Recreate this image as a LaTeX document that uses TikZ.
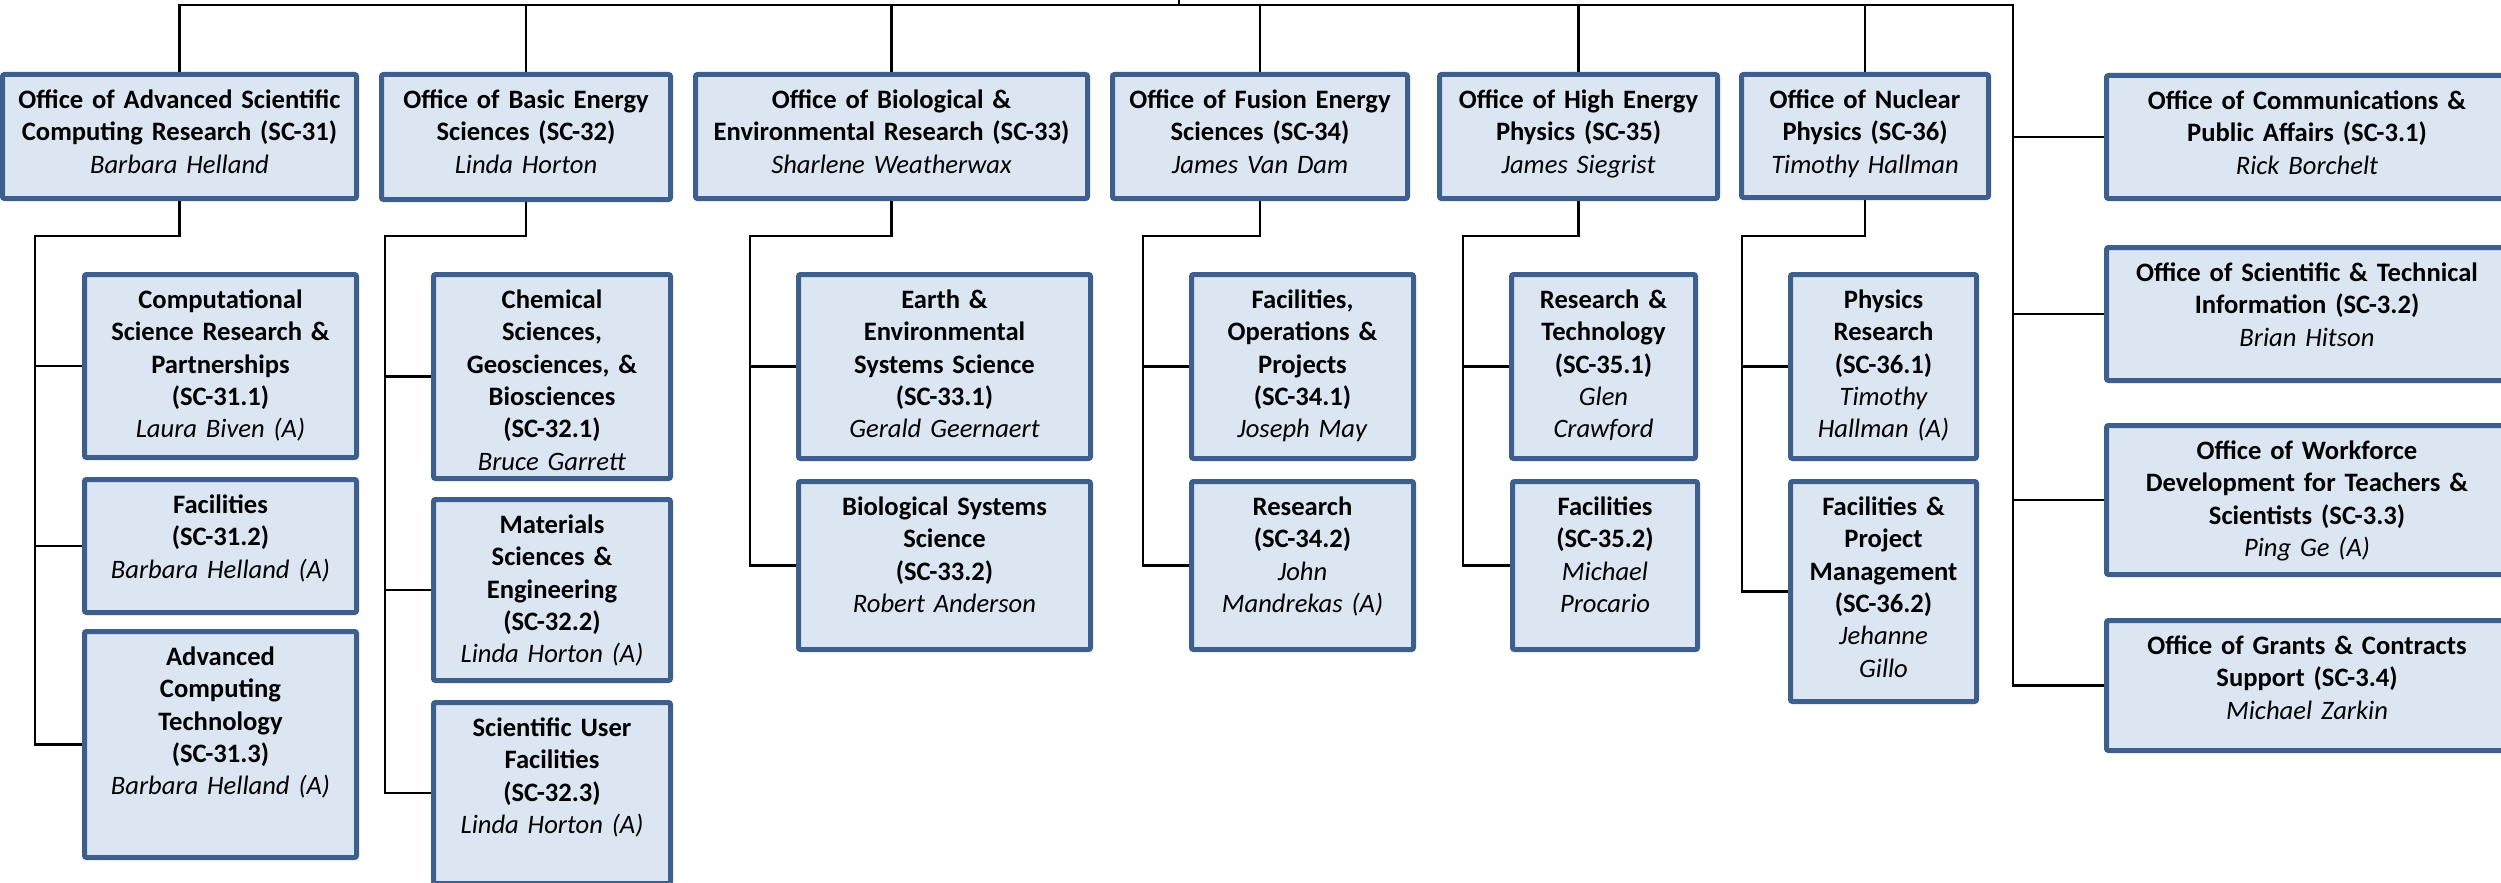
\documentclass[tikz,border=0pt]{standalone}
\usepackage{fontspec}
\setmainfont{Carlito}
\definecolor{boxfill}{HTML}{DCE6F2}
\definecolor{boxline}{HTML}{3C5F8E}
\tikzset{
  orgbox/.style={draw=boxline, fill=boxfill, line width=2.5pt, rounded corners=1pt, inner sep=0pt},
  orgtext/.style={align=center, inner sep=0pt, anchor=north, font=\fontsize{13.3pt}{16.2pt}\selectfont},
  conn/.style={draw=black, line width=1.1pt},
}
\newcommand\orgunit[7]{%
  \node[orgbox, minimum width={(#4-#2-5)*0.5pt}, minimum height={(#5-#3-5)*0.5pt}] (#1) at ({(#2+#4)/2},{(#3+#5)/2}) {};
  \node[orgtext, text width={(#4-#2-14)*0.5pt}] (#1-t) at ([yshift=-6.65pt]#1.north) {\strut\textbf{#6}\\\textit{#7}};
}
\begin{document}
\begin{tikzpicture}[x=0.5pt,y=-0.5pt]
\useasboundingbox (0,0) rectangle (2501,883);
\fill[white] (0,0) rectangle (2501,883);
\clip (0,0) rectangle (2501,883);

% top level
\orgunit{sc31}{0}{72}{359}{201}{Office of Advanced Scientific\\Computing Research (SC-31)}{Barbara Helland}
\orgunit{sc32}{379}{72}{673}{202}{Office of Basic Energy\\Sciences (SC-32)}{Linda Horton}
\orgunit{sc33}{693}{72}{1090}{201}{Office of Biological \&\\Environmental Research (SC-33)}{Sharlene Weatherwax}
\orgunit{sc34}{1110}{72}{1410}{201}{Office of Fusion Energy\\Sciences (SC-34)}{James Van Dam}
\orgunit{sc35}{1437}{72}{1720}{201}{Office of High Energy\\Physics (SC-35)}{James Siegrist}
\orgunit{sc36}{1739}{72}{1991}{200}{Office of Nuclear\\Physics (SC-36)}{Timothy Hallman}

% staff offices
\orgunit{sc3-1}{2104}{73}{2510}{201}{Office of Communications \&\\Public Affairs (SC-3.1)}{Rick Borchelt}
\orgunit{sc3-2}{2104}{245}{2510}{383}{Office of Scientific \& Technical\\Information (SC-3.2)}{Brian Hitson}
\orgunit{sc3-3}{2104}{423}{2510}{577}{Office of Workforce\\Development for Teachers \&\\Scientists (SC-3.3)}{Ping Ge (A)}
\orgunit{sc3-4}{2104}{618}{2510}{753}{Office of Grants \& Contracts\\Support (SC-3.4)}{Michael Zarkin}

% SC-31 divisions
\orgunit{sc31-1}{82}{272}{359}{460}{Computational\\Science Research \&\\Partnerships\\(SC-31.1)}{Laura Biven (A)}
\orgunit{sc31-2}{82}{477}{359}{615}{Facilities\\(SC-31.2)}{Barbara Helland (A)}
\orgunit{sc31-3}{82}{629}{359}{860}{Advanced\\Computing\\Technology\\(SC-31.3)}{Barbara Helland (A)}
% SC-32 divisions
\orgunit{sc32-1}{431}{272}{673}{481}{Chemical\\Sciences,\\Geosciences, \&\\Biosciences\\(SC-32.1)}{Bruce Garrett}
\orgunit{sc32-2}{431}{497}{673}{683}{Materials\\Sciences \&\\Engineering\\(SC-32.2)}{Linda Horton (A)}
\orgunit{sc32-3}{431}{700}{673}{886}{Scientific User\\Facilities\\(SC-32.3)}{Linda Horton (A)}
% SC-33 divisions
\orgunit{sc33-1}{796}{272}{1093}{461}{Earth \&\\Environmental\\Systems Science\\(SC-33.1)}{Gerald Geernaert}
\orgunit{sc33-2}{796}{479}{1093}{652}{Biological Systems\\Science\\(SC-33.2)}{Robert Anderson}
% SC-34 divisions
\orgunit{sc34-1}{1189}{272}{1416}{461}{Facilities,\\Operations \&\\Projects\\(SC-34.1)}{Joseph May}
\orgunit{sc34-2}{1189}{479}{1416}{652}{Research\\(SC-34.2)}{John\\Mandrekas (A)}
% SC-35 divisions
\orgunit{sc35-1}{1509}{272}{1698}{461}{Research \&\\Technology\\(SC-35.1)}{Glen\\Crawford}
\orgunit{sc35-2}{1510}{479}{1700}{652}{Facilities\\(SC-35.2)}{Michael\\Procario}
% SC-36 divisions
\orgunit{sc36-1}{1788}{272}{1979}{461}{Physics\\Research\\(SC-36.1)}{Timothy\\Hallman (A)}
\orgunit{sc36-2}{1788}{479}{1979}{704}{Facilities \&\\Project\\Management\\(SC-36.2)}{Jehanne\\Gillo}

% bus and root
\coordinate (root) at (1179,0);
\coordinate (busR) at (2013,5);
\draw[conn] (sc31.north) |- (busR) |- (sc3-4.west);
\draw[conn] (root) -- (root |- busR);
\foreach \n in {sc32,sc33,sc34,sc35,sc36}{
  \draw[conn] (\n.north) -- (\n.north |- busR);
}
\foreach \n in {sc3-1,sc3-2,sc3-3}{
  \draw[conn] (busR |- \n.west) -- (\n.west);
}

% division trees
\coordinate (j31) at (35,236);
\draw[conn] (sc31.south) |- (j31) |- (sc31-3.west);
\draw[conn] (j31 |- sc31-1.west) -- (sc31-1.west);
\draw[conn] (j31 |- sc31-2.west) -- (sc31-2.west);

\coordinate (j32) at (385,236);
\draw[conn] (sc32.south) |- (j32) |- (sc32-3.west);
\draw[conn] (j32 |- sc32-1.west) -- (sc32-1.west);
\draw[conn] (j32 |- sc32-2.west) -- (sc32-2.west);

\coordinate (j33) at (750,236);
\draw[conn] (sc33.south) |- (j33) |- (sc33-2.west);
\draw[conn] (j33 |- sc33-1.west) -- (sc33-1.west);

\coordinate (j34) at (1143,236);
\draw[conn] (sc34.south) |- (j34) |- (sc34-2.west);
\draw[conn] (j34 |- sc34-1.west) -- (sc34-1.west);

\coordinate (j35) at (1463,236);
\draw[conn] (sc35.south) |- (j35) |- (sc35-2.west);
\draw[conn] (j35 |- sc35-1.west) -- (sc35-1.west);

\coordinate (j36) at (1742,236);
\draw[conn] (sc36.south) |- (j36) |- (sc36-2.west);
\draw[conn] (j36 |- sc36-1.west) -- (sc36-1.west);
\end{tikzpicture}
\end{document}
